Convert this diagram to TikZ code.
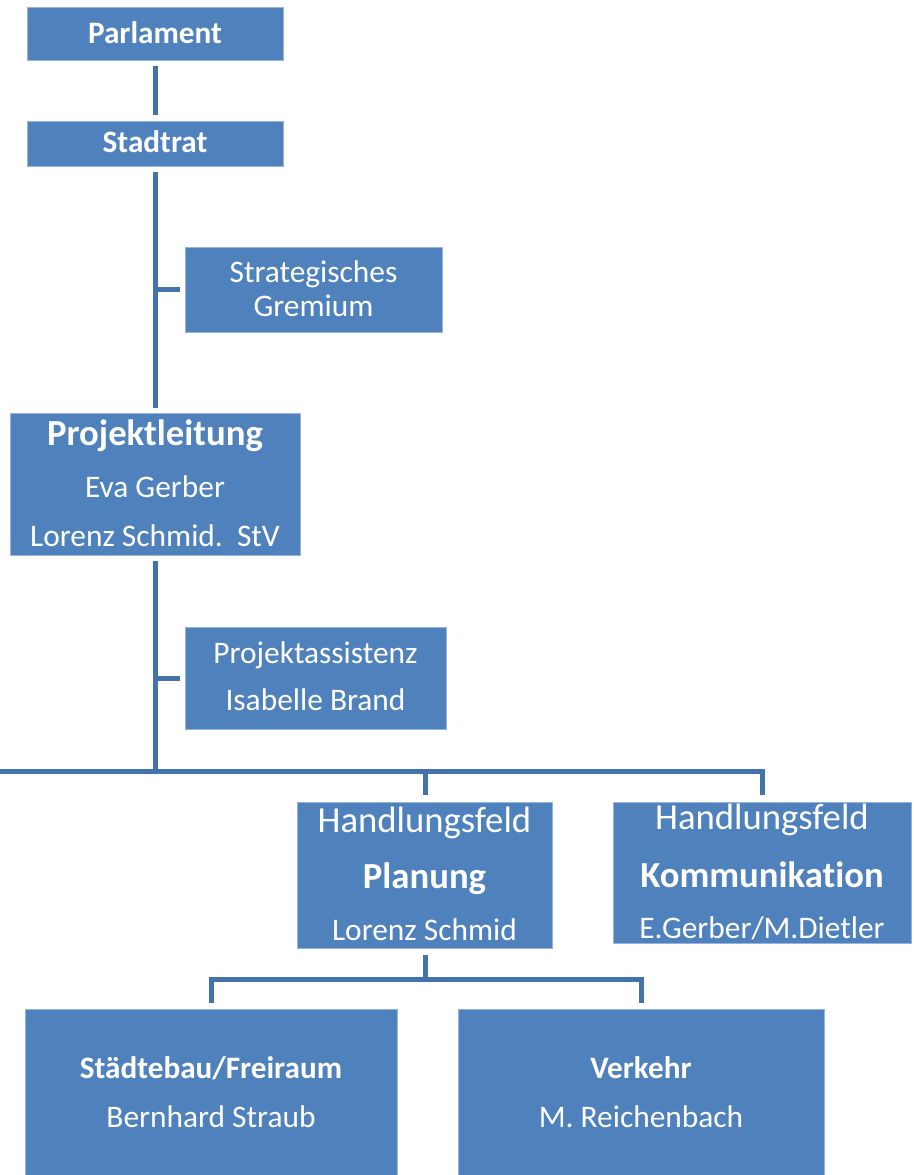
\documentclass[tikz,border=0pt]{standalone}
\usepackage{fontspec}
\setmainfont{Carlito}[Ligatures={NoCommon}]
\usetikzlibrary{calc}
\definecolor{boxblue}{RGB}{79,129,189}
\definecolor{boxedge}{RGB}{150,180,222}
\definecolor{linkblue}{RGB}{68,114,170}
\tikzset{
  orgbox/.style={rectangle, fill=boxblue, draw=boxedge, line width=0.8pt, inner sep=0pt},
  conn/.style={draw=linkblue, line width=5pt, line join=miter},
  txtreg/.style={text=white, inner sep=0pt, anchor=base, font=\fontsize{31.4}{37}\selectfont},
  txtbold/.style={text=white, inner sep=0pt, anchor=base, font=\fontsize{31.2}{37}\selectfont\bfseries},
  txtbig/.style={text=white, inner sep=0pt, anchor=base, font=\fontsize{36.7}{44}\selectfont},
  txtbigbold/.style={text=white, inner sep=0pt, anchor=base, font=\fontsize{36.7}{44}\selectfont\bfseries},
}
\begin{document}
\begin{tikzpicture}[x=1pt,y=-1pt]
\useasboundingbox (0,0) rectangle (913,1175);
\clip (0,0) rectangle (913,1175);
% boxes
\node[orgbox, minimum width=256pt, minimum height=53pt] (parl) at (155,33.5) {};
\node[orgbox, minimum width=256pt, minimum height=45pt] (stad) at (155,143.5) {};
\node[orgbox, minimum width=257pt, minimum height=85pt] (strat) at (313.5,289.5) {};
\node[orgbox, minimum width=290pt, minimum height=142pt] (pl) at (155,484) {};
\node[orgbox, minimum width=261pt, minimum height=102pt] (pa) at (315.5,678) {};
\node[orgbox, minimum width=255pt, minimum height=146pt] (plan) at (424.5,875) {};
\node[orgbox, minimum width=298pt, minimum height=141pt] (komm) at (762,872.5) {};
\node[orgbox, minimum width=372pt, minimum height=186pt] (sb) at (211,1102) {};
\node[orgbox, minimum width=366pt, minimum height=186pt] (vk) at (641,1102) {};
% texts
\node[txtbold] (parl-t) at (155,43) {Parlament};
\node[txtbold] (stad-t) at (155,152) {Stadtrat};
\node[txtreg] (strat-t1) at (313.5,282) {Strategisches};
\node[txtreg] (strat-t2) at (313.5,316) {Gremium};
\node[txtbigbold] (pl-t1) at (155,445) {Projektleitung};
\node[txtreg] (pl-t2) at (155,497) {Eva Gerber};
\node[txtreg] (pl-t3) at (155,546) {Lorenz Schmid.\ \ StV};
\node[txtreg] (pa-t1) at (315.5,663) {Projektassistenz};
\node[txtreg] (pa-t2) at (315.5,710) {Isabelle Brand};
\node[txtbig] (plan-t1) at (424.5,832) {Handlungsfeld};
\node[txtbigbold] (plan-t2) at (424.5,888) {Planung};
\node[txtreg] (plan-t3) at (424.5,940) {Lorenz Schmid};
\node[txtbig] (komm-t1) at (762,829) {Handlungsfeld};
\node[txtbigbold] (komm-t2) at (762,887) {Kommunikation};
\node[txtreg] (komm-t3) at (762,938) {E.Gerber/M.Dietler};
\node[txtbold] (sb-t1) at (211,1078) {Städtebau/Freiraum};
\node[txtreg] (sb-t2) at (211,1127) {Bernhard Straub};
\node[txtbold] (vk-t1) at (641,1078) {Verkehr};
\node[txtreg] (vk-t2) at (641,1127) {M. Reichenbach};
% connectors
\coordinate (bus) at (0,771);
\coordinate (bus2) at ($(plan.south)+(0.5,31)$);
\draw[conn, shorten <=6pt, shorten >=6pt] (parl.south) -- (stad.north);
\draw[conn, shorten <=6pt, shorten >=5pt] (stad.south) -- (pl.north);
\draw[conn, shorten <=5pt] (strat.west) -- (strat.west -| stad.south);
\draw[conn, shorten <=6pt] (pl.south) -- (pl.south |- bus);
\draw[conn, shorten <=5pt] (pa.west) -- (pa.west -| pl.south);
\draw[conn, shorten >=7pt] (bus) -| (komm.north);
\draw[conn, shorten >=7pt] (bus -| bus2) -- (bus2 |- plan.north);
\draw[conn, shorten <=7pt] (bus2 |- plan.south) -- (bus2);
\draw[conn, shorten >=6pt] (bus2) -| (sb.north);
\draw[conn, shorten >=6pt] (bus2) -| (vk.north);
\end{tikzpicture}
\end{document}
